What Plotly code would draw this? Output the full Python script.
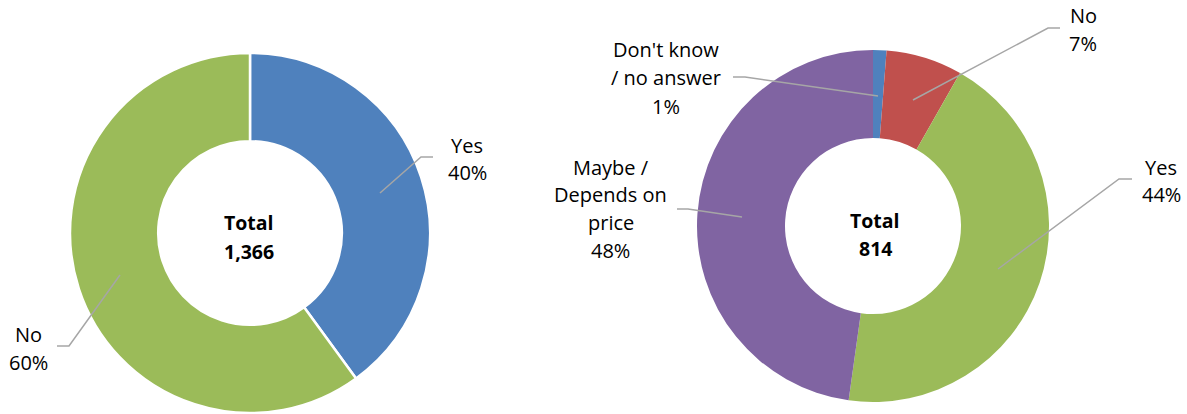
import plotly.graph_objects as go

# ---- data ----
left_labels = ["Yes", "No"]
left_values = [546, 820]
left_colors = ["#4F81BD", "#9BBB59"]

right_labels = ["Don't know<br>/ no answer", "No", "Yes", "Maybe /<br>Depends on<br>price"]
right_values = [10, 57, 358, 389]
right_colors = ["#4F81BD", "#C0504D", "#9BBB59", "#8064A2"]

W, H = 1187, 414
FONT = "Open Sans"

def px(x):
    return x / W

def py(y):
    return 1 - y / H

fig = go.Figure()

# left donut: center (250,233), r 180
fig.add_trace(go.Pie(
    labels=left_labels, values=left_values, sort=False, direction="clockwise",
    rotation=0, hole=0.51, textinfo="none", hoverinfo="none",
    marker=dict(colors=left_colors, line=dict(color="white", width=2.5)),
    domain=dict(x=[px(70), px(430)], y=[py(413), py(53)]),
))
# right donut: center (873,226), r 176
fig.add_trace(go.Pie(
    labels=right_labels, values=right_values, sort=False, direction="clockwise",
    rotation=0, hole=0.5, textinfo="none", hoverinfo="none",
    marker=dict(colors=right_colors, line=dict(color="white", width=0)),
    domain=dict(x=[px(697), px(1049)], y=[py(402), py(50)]),
))

annotations = []
shapes = []

def add_label(lines, cx, y0, step, bold=False):
    for i, t in enumerate(lines):
        txt = f"<b>{t}</b>" if bold else t
        annotations.append(dict(
            x=px(cx), y=py(y0 + i * step), xref="paper", yref="paper",
            text=txt, showarrow=False, xanchor="center", yanchor="middle",
            font=dict(family=FONT, size=20 if not bold else 19.5, color="#000000"),
        ))

def add_leader(points):
    d = "M " + " L ".join(f"{px(x):.5f} {py(y):.5f}" for x, y in points)
    shapes.append(dict(type="path", path=d, xref="paper", yref="paper",
                       line=dict(color="#A6A6A6", width=1.5)))

def pct(v, vals):
    return f"{round(v / sum(vals) * 100)}%"

# left labels
lt = sum(left_values)
add_label([left_labels[0], pct(left_values[0], left_values)], 467, 145, 27)
add_label([left_labels[1], pct(left_values[1], left_values)], 28, 334, 28)
add_leader([(380, 193), (421, 157), (433, 157)])
add_leader([(120, 275), (69, 346), (57, 346)])
add_label(["Total", f"{lt:,}"], 249, 222, 29, bold=True)

# right labels
rt = sum(right_values)
label_pos = [(666, 50, 28), (1083, 16, 27), (1161, 167, 27), (611, 167, 27.7)]
leaders = [
    [(878, 96), (745, 77), (733, 77)],
    [(913, 100), (1048, 28), (1060, 28)],
    [(998, 269), (1119, 179), (1132, 179)],
    [(742, 217), (688, 209), (677, 209)],
]
for lab, v, (cx, y0, st), ld in zip(right_labels, right_values, label_pos, leaders):
    add_label(lab.split("<br>") + [pct(v, right_values)], cx, y0, st)
    add_leader(ld)
add_label(["Total", f"{rt:,}"], 875, 220, 28, bold=True)

fig.update_layout(
    width=W, height=H, margin=dict(l=0, r=0, t=0, b=0),
    paper_bgcolor="white", plot_bgcolor="white", showlegend=False,
    annotations=annotations, shapes=shapes,
)

fig.write_html("out.html", config={"displayModeBar": False},
               post_script="document.body.style.margin='0';document.body.style.overflow='hidden';")
